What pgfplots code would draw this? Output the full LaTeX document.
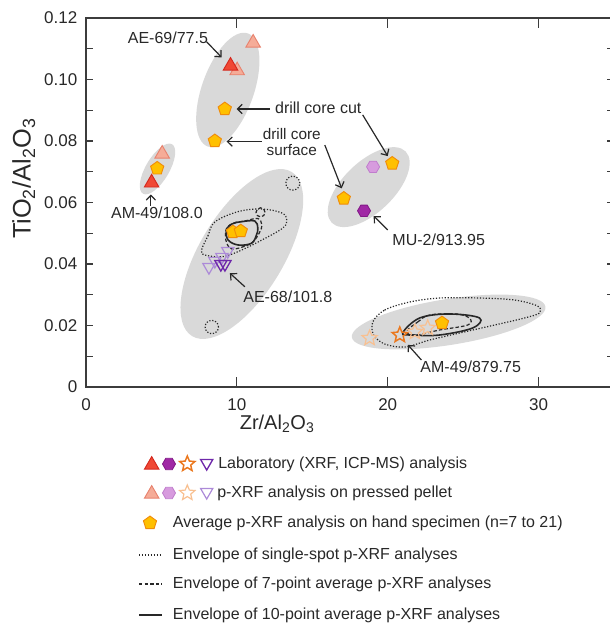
\documentclass[border=0pt]{standalone}
\usepackage{fontspec}
\setmainfont{Liberation Sans}
\usepackage{pgfplots}
\pgfplotsset{compat=1.18}
\usetikzlibrary{arrows.meta,plotmarks}

\definecolor{labred}{RGB}{240,72,52}
\definecolor{labredE}{RGB}{212,40,30}
\definecolor{pelred}{RGB}{245,172,152}
\definecolor{pelredE}{RGB}{232,130,110}
\definecolor{pentF}{RGB}{255,192,0}
\definecolor{pentE}{RGB}{240,140,10}
\definecolor{labhex}{RGB}{160,40,165}
\definecolor{labhexE}{RGB}{130,25,135}
\definecolor{pelhex}{RGB}{215,155,222}
\definecolor{pelhexE}{RGB}{192,125,205}
\definecolor{labstar}{RGB}{235,120,30}
\definecolor{pelstar}{RGB}{248,192,145}
\definecolor{labtri}{RGB}{110,40,170}
\definecolor{peltri}{RGB}{172,138,216}
\definecolor{ellgray}{RGB}{217,217,217}
\definecolor{txt}{RGB}{40,40,40}
\definecolor{axgray}{RGB}{60,60,60}

\pgfdeclareplotmark{hexagon*}{%
  \pgfpathmoveto{\pgfqpointpolar{0}{\pgfplotmarksize}}%
  \pgfpathlineto{\pgfqpointpolar{60}{\pgfplotmarksize}}%
  \pgfpathlineto{\pgfqpointpolar{120}{\pgfplotmarksize}}%
  \pgfpathlineto{\pgfqpointpolar{180}{\pgfplotmarksize}}%
  \pgfpathlineto{\pgfqpointpolar{240}{\pgfplotmarksize}}%
  \pgfpathlineto{\pgfqpointpolar{300}{\pgfplotmarksize}}%
  \pgfpathclose
  \pgfusepathqfillstroke}
\pgfdeclareplotmark{ostar}{%
  \pgfpathmoveto{\pgfpointpolar{90}{\pgfplotmarksize}}%
  \pgfpathlineto{\pgfpointpolar{126}{0.45\pgfplotmarksize}}%
  \pgfpathlineto{\pgfpointpolar{162}{\pgfplotmarksize}}%
  \pgfpathlineto{\pgfpointpolar{198}{0.45\pgfplotmarksize}}%
  \pgfpathlineto{\pgfpointpolar{234}{\pgfplotmarksize}}%
  \pgfpathlineto{\pgfpointpolar{270}{0.45\pgfplotmarksize}}%
  \pgfpathlineto{\pgfpointpolar{306}{\pgfplotmarksize}}%
  \pgfpathlineto{\pgfpointpolar{342}{0.45\pgfplotmarksize}}%
  \pgfpathlineto{\pgfpointpolar{18}{\pgfplotmarksize}}%
  \pgfpathlineto{\pgfpointpolar{54}{0.45\pgfplotmarksize}}%
  \pgfpathclose
  \pgfusepathqstroke}

\pgfplotsset{
  labtriup/.style={only marks, mark=triangle*, mark size=6.3pt, mark options={fill=labred, draw=labredE, line width=0.7pt}},
  peltriup/.style={only marks, mark=triangle*, mark size=6.3pt, mark options={fill=pelred, draw=pelredE, line width=0.7pt}},
  pent/.style={only marks, mark=pentagon*, mark size=5.2pt, mark options={fill=pentF, draw=pentE, line width=0.7pt}},
  labhx/.style={only marks, mark=hexagon*, mark size=4.9pt, mark options={fill=labhex, draw=labhexE, line width=0.6pt}},
  pelhx/.style={only marks, mark=hexagon*, mark size=4.9pt, mark options={fill=pelhex, draw=pelhexE, line width=0.6pt}},
  labst/.style={only marks, mark=ostar, mark size=6pt, mark options={draw=labstar, line width=1.1pt, line join=miter}},
  pelst/.style={only marks, mark=ostar, mark size=6pt, mark options={draw=pelstar, line width=0.9pt, line join=miter}},
  labdn/.style={only marks, mark=triangle, mark size=5.3pt, mark options={rotate=180, draw=labtri, line width=1pt}},
  peldn/.style={only marks, mark=triangle, mark size=5.3pt, mark options={rotate=180, draw=peltri, line width=0.9pt}},
}

\newcommand{\annfont}{\fontsize{12}{13}\selectfont}
\tikzset{ann/.style={-{Straight Barb[length=3.6pt,width=7pt,line width=0.9pt]}, line width=0.9pt, draw=txt},
  envdot/.style={dash pattern=on 0.9pt off 1.3pt, line width=0.9pt, txt},
  envdash/.style={dash pattern=on 2.6pt off 1.6pt, line width=0.9pt, txt}}

\begin{document}
\begin{tikzpicture}
\begin{axis}[
  at={(0pt,0pt)}, anchor=south west,
  scale only axis, width=396pt, height=276.75pt,
  xmin=0, xmax=35, ymin=0, ymax=0.12,
  axis line style={draw=axgray, line width=1pt},
  tick style={draw=axgray, line width=0.9pt},
  tick align=inside,
  xtick={0,10,20,30}, xticklabels={0,10,20,30},
  ytick={0,0.02,0.04,0.06,0.08,0.10,0.12},
  yticklabels={0,0.02,0.04,0.06,0.08,0.10,0.12},
  minor ytick={0.01,0.03,0.05,0.07,0.09,0.11},
  extra y ticks={0.05,0.10}, extra y tick labels={},
  extra y tick style={grid=none, /pgfplots/major tick length=9.75pt},
  xtick style={/pgfplots/major tick length=7.5pt},
  ytick style={/pgfplots/major tick length=5.25pt, /pgfplots/minor tick length=5.25pt},
  scaled y ticks=false,
  /pgf/number format/assume math mode=true,
  tick label style={font=\fontsize{12.75}{15}\selectfont, text=txt},
  yticklabel style={xshift=-3pt},
  xticklabel style={yshift=-5.5pt},
  xlabel={Zr/Al\textsubscript{2}O\textsubscript{3}},
  xlabel style={at={(axis description cs:0.362,-0.10)}, anchor=center, font=\fontsize{15}{18}\selectfont, text=txt},
  ylabel={TiO\textsubscript{2}/Al\textsubscript{2}O\textsubscript{3}},
  ylabel style={at={(axis description cs:-0.118,0.565)}, anchor=center, font=\fontsize{19}{22}\selectfont, text=txt},
]
% grey fields
\fill[ellgray] (axis cs:9.40,0.0966) ellipse [x radius=45pt, y radius=19.5pt, rotate=70.5];
\fill[ellgray] (axis cs:4.74,0.0709) ellipse [x radius=21.5pt, y radius=8.8pt, rotate=59.5];
\fill[ellgray] (axis cs:10.33,0.04325) ellipse [x radius=72pt, y radius=31.5pt, rotate=58.8];
\fill[ellgray] (axis cs:18.74,0.0650) ellipse [x radius=38.5pt, y radius=19pt, rotate=43.8];
\fill[ellgray] (axis cs:24.04,0.02114) ellipse [x radius=73.5pt, y radius=17.25pt, rotate=9];

% envelopes AE-68
\draw[envdot] plot[smooth cycle, tension=0.6] coordinates {
 (axis cs:7.66,0.04455) (axis cs:8.08,0.04911) (axis cs:8.54,0.05366) (axis cs:10.07,0.05701)
 (axis cs:11.66,0.05789) (axis cs:12.98,0.05659) (axis cs:13.31,0.05431) (axis cs:13.05,0.05171)
 (axis cs:11.66,0.04780) (axis cs:10.07,0.04400) (axis cs:9.01,0.04237) (axis cs:7.88,0.04293)};
\draw[envdash] plot[smooth cycle, tension=0.6] coordinates {
 (axis cs:9.32,0.05161) (axis cs:9.80,0.05333) (axis cs:10.53,0.05398) (axis cs:11.39,0.05480)
 (axis cs:11.66,0.05268) (axis cs:11.52,0.05041) (axis cs:11.19,0.04780) (axis cs:10.73,0.04618)
 (axis cs:9.67,0.04488) (axis cs:9.27,0.04780)};
\draw[line width=1.2pt, txt] plot[smooth cycle, tension=0.6] coordinates {
 (axis cs:9.31,0.05106) (axis cs:9.67,0.05301) (axis cs:10.31,0.05376) (axis cs:11.19,0.05398)
 (axis cs:11.39,0.05171) (axis cs:11.30,0.04943) (axis cs:10.97,0.04673) (axis cs:10.09,0.04618)
 (axis cs:9.42,0.04780)};
\draw[envdot] (axis cs:13.71,0.0663) circle [radius=5.25pt];
\draw[envdot] (axis cs:8.34,0.0195) circle [radius=5pt];
\draw[envdash] (axis cs:11.57,0.0568) circle [radius=3.4pt];

% envelopes AM-49/879.75
\draw[envdot] plot[smooth cycle, tension=0.55] coordinates {
 (axis cs:19.01,0.02114) (axis cs:19.80,0.02504) (axis cs:21.46,0.02764) (axis cs:23.44,0.02894)
 (axis cs:26.09,0.02894) (axis cs:28.41,0.02829) (axis cs:29.93,0.02634) (axis cs:30.07,0.02407)
 (axis cs:29.07,0.02244) (axis cs:27.09,0.02016) (axis cs:24.77,0.01756) (axis cs:22.78,0.01528)
 (axis cs:21.13,0.01301) (axis cs:19.80,0.01398) (axis cs:19.07,0.01691)};
\draw[envdash] plot[smooth cycle, tension=0.6] coordinates {
 (axis cs:21.23,0.01798) (axis cs:21.99,0.02114) (axis cs:22.78,0.02341) (axis cs:24.55,0.02374)
 (axis cs:25.43,0.02234) (axis cs:25.30,0.02016) (axis cs:23.44,0.01854) (axis cs:21.90,0.01691)};
\draw[line width=1.2pt, txt] plot[smooth cycle, tension=0.6] coordinates {
 (axis cs:20.99,0.01756) (axis cs:22.12,0.02244) (axis cs:24.11,0.02374) (axis cs:26.09,0.02244)
 (axis cs:25.63,0.01919) (axis cs:23.44,0.01691) (axis cs:21.66,0.01691)};

% pellet analyses
\addplot[peltriup] coordinates {(11.08,0.1119) (10.02,0.1029) (5.05,0.0758)};
\addplot[pelhx] coordinates {(19.03,0.0716)};
\addplot[pelst] coordinates {(18.8,0.0159) (21.8,0.0179) (22.65,0.0192)};
\addplot[peldn] coordinates {(8.15,0.0390) (8.54,0.0410) (9.01,0.0423) (9.40,0.0442)};
% laboratory analyses
\addplot[labtriup] coordinates {(9.58,0.1044) (4.35,0.0664)};
\addplot[labhx] coordinates {(18.43,0.0573)};
\addplot[labst] coordinates {(20.8,0.0169)};
\addplot[labdn] coordinates {(8.94,0.0400) (9.21,0.0400)};
% hand specimen averages
\addplot[pent] coordinates {(9.20,0.0904) (8.54,0.0800) (4.72,0.0711) (9.74,0.0504) (10.26,0.0507) (17.09,0.0613) (20.30,0.0727) (23.6,0.0208)};

% annotations
\node[font=\annfont, text=txt] at (axis cs:5.43,0.1135) {AE-69/77.5};
\draw[ann] (axis cs:7.99,0.1123) -- (axis cs:8.99,0.1072);
\node[font=\annfont, text=txt, anchor=west, inner sep=0pt] at (axis cs:12.52,0.0907) {drill core cut};
\draw[ann] (axis cs:12.19,0.0904) -- (axis cs:9.98,0.0904);
\draw[ann] (axis cs:18.34,0.0885) -- (axis cs:20.0,0.0751);
\node[font=\fontsize{11.5}{11.5}\selectfont, text=txt, align=center, inner sep=0pt] at (axis cs:13.64,0.0797) {drill core\\surface};
\draw[ann] (axis cs:11.66,0.0798) -- (axis cs:9.32,0.0798);
\draw[ann] (axis cs:15.83,0.0787) -- (axis cs:16.95,0.0646);
\node[font=\annfont, text=txt] at (axis cs:4.70,0.0565) {AM-49/108.0};
\draw[ann] (axis cs:4.30,0.0590) -- (axis cs:4.30,0.0626);
\node[font=\annfont, text=txt] at (axis cs:23.38,0.0478) {MU-2/913.95};
\draw[ann] (axis cs:20.0,0.0511) -- (axis cs:19.07,0.0556);
\node[font=\annfont, text=txt] at (axis cs:13.38,0.0293) {AE-68/101.8};
\draw[ann] (axis cs:10.53,0.0326) -- (axis cs:9.54,0.0370);
\node[font=\annfont, text=txt] at (axis cs:25.50,0.0065) {AM-49/879.75};
\draw[ann] (axis cs:22.23,0.0088) -- (axis cs:21.34,0.0137);
\end{axis}

% legend, in pixel units of the reference
\begin{axis}[
  at={(-64.5pt,-178.5pt)}, anchor=south west,
  x=0.75pt, y=0.75pt,
  xmin=0, xmax=610, ymin=-625, ymax=0,
  hide axis, clip=false,
]
\addplot[labtriup] coordinates {(151.7,-465)};
\addplot[labhx] coordinates {(169,-464)};
\addplot[labst] coordinates {(187.3,-464)};
\addplot[labdn] coordinates {(206.7,-463)};
\addplot[peltriup] coordinates {(151.7,-494)};
\addplot[pelhx] coordinates {(169,-493)};
\addplot[pelst] coordinates {(187.3,-493)};
\addplot[peldn] coordinates {(206.7,-492)};
\addplot[pent] coordinates {(150,-523)};
\addplot[envdot] coordinates {(139,-555) (162,-555)};
\addplot[envdash] coordinates {(139,-584) (162,-584)};
\addplot[line width=1.1pt, txt] coordinates {(139,-615) (162,-615)};
\node[anchor=west, inner sep=0pt, font=\annfont, text=txt] at (axis cs:218,-464) {Laboratory (XRF, ICP-MS) analysis};
\node[anchor=west, inner sep=0pt, font=\annfont, text=txt] at (axis cs:217,-493) {p-XRF analysis on pressed pellet};
\node[anchor=west, inner sep=0pt, font=\annfont, text=txt] at (axis cs:172.7,-523) {Average p-XRF analysis on hand specimen (n=7 to 21)};
\node[anchor=west, inner sep=0pt, font=\annfont, text=txt] at (axis cs:172.7,-555) {Envelope of single-spot p-XRF analyses};
\node[anchor=west, inner sep=0pt, font=\annfont, text=txt] at (axis cs:172.7,-584) {Envelope of 7-point average p-XRF analyses};
\node[anchor=west, inner sep=0pt, font=\annfont, text=txt] at (axis cs:172.7,-615) {Envelope of 10-point average p-XRF analyses};
\end{axis}
\pgfresetboundingbox
\useasboundingbox (-64.5pt,-178.5pt) rectangle (393pt,290.25pt);
\end{tikzpicture}
\end{document}
